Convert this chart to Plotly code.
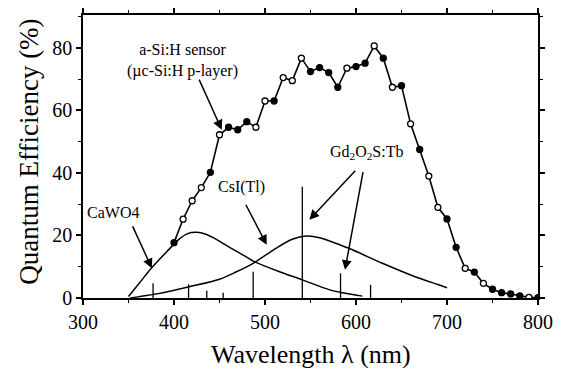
import plotly.graph_objects as go

# a-Si:H sensor quantum efficiency (%)
wl_sensor = list(range(400, 801, 10))
qe_sensor = [17.7, 25.2, 31.1, 35.3, 40.2, 52.2, 54.6, 53.8, 56.4, 54.6,
             63.0, 63.0, 70.5, 69.5, 76.7, 72.4, 73.7, 72.1, 67.4, 73.5,
             74.0, 75.1, 80.6, 76.7, 67.4, 67.9, 55.7, 47.5, 39.0, 29.0,
             25.3, 16.2, 9.5, 8.3, 4.7, 2.8, 1.7, 1.3, 0.64, 0.2, 0.1]
# marker fill: 1 = filled, 0 = open
filled = [1, 0, 0, 0, 1, 0, 1, 1, 1, 0,
          0, 1, 0, 0, 0, 1, 1, 1, 1, 0,
          1, 1, 0, 1, 0, 1, 0, 1, 0, 0,
          1, 1, 0, 1, 0, 1, 1, 1, 1, 0, 1]

# CaWO4 emission
wl_cawo4 = [350, 362, 375, 392, 406, 415, 425, 435, 443, 461, 479, 487, 500, 516, 541, 571, 585, 607]
em_cawo4 = [0.5, 4.8, 9.5, 14.8, 18.9, 20.6, 21.0, 20.4, 19.3, 16.2, 13.2, 11.8, 10.2, 8.4, 5.8, 2.6, 1.7, 0.6]

# CsI(Tl) emission
wl_csi = [352, 388, 417, 450, 468, 487, 512, 530, 545, 560, 592, 629, 665, 690, 700]
em_csi = [0.0, 1.7, 3.6, 6.0, 8.3, 11.1, 15.9, 18.8, 19.8, 19.3, 15.9, 11.1, 6.8, 4.3, 3.3]

# Gd2O2S:Tb emission lines
wl_gos = [377, 416, 436, 454, 487, 541, 583, 616]
em_gos = [4.7, 4.4, 2.3, 1.7, 8.4, 35.6, 7.9, 4.2]

fig = go.Figure()

for w, e in zip(wl_gos, em_gos):
    fig.add_trace(go.Scatter(x=[w, w], y=[0, e], mode="lines",
                             line=dict(color="black", width=1.3),
                             showlegend=False, hoverinfo="skip"))

fig.add_trace(go.Scatter(x=wl_cawo4, y=em_cawo4, mode="lines",
                         line=dict(color="black", width=1.5, shape="spline", smoothing=0.8),
                         showlegend=False))
fig.add_trace(go.Scatter(x=wl_csi, y=em_csi, mode="lines",
                         line=dict(color="black", width=1.5, shape="spline", smoothing=0.8),
                         showlegend=False))
fig.add_trace(go.Scatter(x=wl_sensor, y=qe_sensor, mode="lines+markers",
                         line=dict(color="black", width=1.6),
                         marker=dict(size=6, symbol="circle",
                                     color=["black" if f else "white" for f in filled],
                                     line=dict(color="black", width=1.3)),
                         showlegend=False))

serif = "Liberation Serif, Times New Roman, serif"

def arrow(x, y, ax, ay):
    fig.add_annotation(x=x, y=y, ax=ax, ay=ay, xref="x", yref="y",
                       axref="x", ayref="y", text="", showarrow=True,
                       arrowhead=2, arrowsize=1.3, arrowwidth=1.5,
                       arrowcolor="black", standoff=0, startstandoff=0)

arrow(452.5, 53.8, 426.9, 70.3)
arrow(375.7, 9.5, 353.8, 23.4)
arrow(501.9, 17.0, 478.1, 30.3)
arrow(548.7, 25.0, 600.7, 41.2)
arrow(587.9, 9.0, 608.0, 40.7)

def label(x, y, t):
    fig.add_annotation(x=x, y=y, xref="x", yref="y", text=t, showarrow=False,
                       font=dict(family=serif, size=16, color="black"))

label(409.5, 75.8, "a-Si:H sensor<br>(µc-Si:H p-layer)")
label(332.7, 27.2, "CaWO4")
label(473.7, 35.5, "CsI(Tl)")
label(612.0, 46.4, "Gd<sub>2</sub>O<sub>2</sub>S:Tb")

# axis titles
fig.add_annotation(x=0.502, y=-0.2, xref="paper", yref="paper",
                   text="Wavelength λ (nm)", showarrow=False,
                   xanchor="center", yanchor="middle",
                   font=dict(family=serif, size=26, color="black"))
fig.add_annotation(x=-0.118, y=0.5177, xref="paper", yref="paper",
                   text="Quantum Efficiency (%)", showarrow=False, textangle=-90,
                   xanchor="center", yanchor="middle",
                   font=dict(family=serif, size=27, color="black"))

axis_common = dict(showline=True, linecolor="black", linewidth=1.5, mirror="ticks",
                   ticks="outside", ticklen=5, tickwidth=1.5, tickcolor="black",
                   showgrid=False, zeroline=False, automargin=False,
                   tickfont=dict(family=serif, size=20, color="black"))

fig.update_xaxes(range=[300, 800], tickvals=[300, 400, 500, 600, 700, 800],
                 minor=dict(ticks="outside", ticklen=3, tickwidth=1.2, tickcolor="black", dtick=50),
                 **axis_common)
fig.update_yaxes(range=[0, 90.5], tickvals=[0, 20, 40, 60, 80],
                 minor=dict(ticks="outside", ticklen=3, tickwidth=1.2, tickcolor="black", dtick=10),
                 **axis_common)

fig.update_layout(width=567, height=368, margin=dict(l=83, r=29, t=15, b=70),
                  plot_bgcolor="white", paper_bgcolor="white")

fig.write_html("out.html", config={"displayModeBar": False},
               post_script="document.body.style.margin='0';document.body.style.overflow='hidden';")
